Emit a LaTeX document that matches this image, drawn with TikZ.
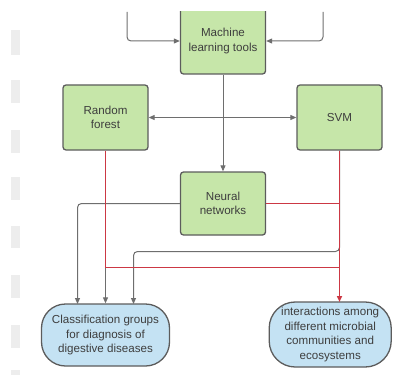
\documentclass[tikz,border=0pt]{standalone}
\usepackage{fontspec}
\setmainfont{Liberation Sans}
\usetikzlibrary{arrows.meta}
\definecolor{boxgreen}{HTML}{C6E6A9}
\definecolor{boxblue}{HTML}{C4E2F3}
\definecolor{edge}{HTML}{5C5C5C}
\definecolor{linegray}{HTML}{6E6E6E}
\definecolor{linered}{HTML}{CC3844}
\definecolor{txt}{HTML}{3E3E3E}
\definecolor{barcol}{HTML}{EDEDED}
\definecolor{navy}{HTML}{2B3F73}
\tikzset{
  greenbox/.style={draw=edge, line width=1.3pt, fill=boxgreen, rounded corners=3pt,
    minimum width=85pt, align=center, text=txt,
    font=\fontsize{11.6pt}{14.5pt}\selectfont},
  bluebox/.style={draw=edge, line width=1.3pt, fill=boxblue, align=center, text=txt,
    font=\fontsize{11.6pt}{14.5pt}\selectfont, inner sep=0pt},
  gline/.style={color=linegray, line width=1pt, rounded corners=4pt},
  rline/.style={color=linered, line width=1.5pt},
  tip/.style={-{Triangle[width=5pt,length=6pt]}},
}
\begin{document}
\begin{tikzpicture}[x=1pt,y=-1pt]
\useasboundingbox (0,0) rectangle (406,374);
% left bars
\foreach \a/\b in {30/55,80/103,130/153,177/200,226/248,275/298,325/348,370/376}
  \fill[barcol] (11,\a) rectangle (20,\b);
% top-right arc
\draw[navy, line width=1.1pt] (387,-2) arc[start angle=190, end angle=350, radius=10];
\begin{scope}
\clip (0,12) rectangle (406,374);
\node[greenbox, minimum height=66pt] (ml) at (223,41) {Machine\\learning tools};
\end{scope}
\node[greenbox, minimum height=65pt] (rf) at (105.5,117.5) {Random\\forest};
\node[greenbox, minimum height=65pt] (svm) at (339.5,117.5) {SVM};
\node[greenbox, minimum height=63pt] (nn) at (223,203.5) {Neural\\networks};
\node[bluebox, rounded corners=24pt, minimum width=128pt, minimum height=62pt] (cls) at (105.5,335) {Classification groups\\for diagnosis of\\digestive diseases};
\node[bluebox, rounded corners=26pt, minimum width=122pt, minimum height=65pt] (ia) at (330.2,334.5) {interactions among\\different microbial\\communities and\\ecosystems};
% coordinates
\coordinate (tl) at (127,12);
\coordinate (tr) at (323,12);
\coordinate (clsA) at (77.5,304);
\coordinate (clsC) at (133.5,304);
\coordinate (gc) at (133.5,251.5);
\coordinate (iaIn) at (339.5,302);
\coordinate (jr) at (105.5,267.5);
% top inputs
\draw[gline, tip] (tl) |- (ml.west);
\draw[gline, tip] (tr) |- (ml.east);
% ml to nn and double arrow
\draw[gline, tip] (ml.south) -- (nn.north);
\draw[gline, {Triangle[width=5pt,length=6pt]}-{Triangle[width=5pt,length=6pt]}] (rf.east) -- (svm.west);
% gray connectors to classification
\draw[gline, tip] (nn.west) -| (clsA);
\draw[gline, tip] (rf.south) -- (cls.north);
\draw[gline, tip] (svm.south) |- (gc) -- (clsC);
% red connectors
\draw[rline] (nn.east) -- (iaIn |- nn.east);
\draw[rline] (rf.south) -- (jr) -- (iaIn |- jr);
\draw[rline, tip] (svm.south) -- (iaIn);
\end{tikzpicture}
\end{document}
